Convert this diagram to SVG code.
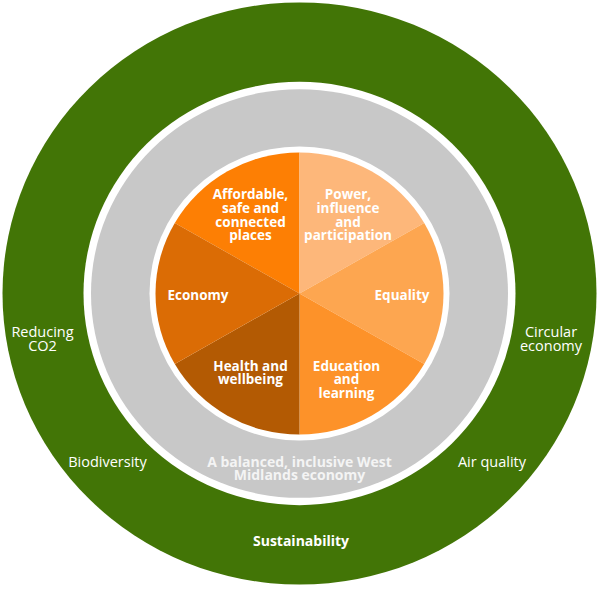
<svg xmlns="http://www.w3.org/2000/svg" width="600" height="589" viewBox="0 0 600 589">
<style>
.lbl{font-family:"Open Sans","Liberation Sans",sans-serif;fill:#ffffff;text-anchor:middle}
.b{font-weight:700;font-size:13.5px}
.r{font-weight:400;font-size:14.5px}
.bal{fill:#f4f4f4;font-size:14px}
</style>
<rect width="600" height="589" fill="#ffffff"/>
<g id="sustainability">
<g transform="translate(299.5,293.5) scale(1,0.98)">
<circle r="297" fill="#427506"/>
<circle r="216" fill="#ffffff"/>
</g>
<text class="lbl r" x="42.5" y="337">Reducing</text>
<text class="lbl r" x="42.5" y="351">CO2</text>
<text class="lbl r" x="107.5" y="467">Biodiversity</text>
<text class="lbl r" x="551" y="337">Circular</text>
<text class="lbl r" x="551" y="351">economy</text>
<text class="lbl r" x="492" y="467">Air quality</text>
<text class="lbl b" x="301" y="546" style="font-size:14px">Sustainability</text>
</g>
<g id="balanced-economy">
<g transform="translate(299.5,293.5) scale(1,0.98)">
<circle r="208.5" fill="#c8c8c8"/>
<circle r="150" fill="#ffffff"/>
</g>
<text class="lbl b bal" x="299.5" y="466.5">A balanced, inclusive West</text>
<text class="lbl b bal" x="299.5" y="480">Midlands economy</text>
</g>
<g id="sector-affordable">
<path transform="translate(299.5,293.5) scale(1,0.98)" d="M0,0 L0,-144 A144,144 0 0 0 -124.71,-72 Z" fill="#fd7f04"/>
<text class="lbl b" x="250.5" y="198.5">Affordable,</text>
<text class="lbl b" x="250.5" y="212.5">safe and</text>
<text class="lbl b" x="250.5" y="226.5">connected</text>
<text class="lbl b" x="250.5" y="240">places</text>
</g>
<g id="sector-power">
<path transform="translate(299.5,293.5) scale(1,0.98)" d="M0,0 L0,-144 A144,144 0 0 1 124.71,-72 Z" fill="#fdb77a"/>
<text class="lbl b" x="348" y="198.5">Power,</text>
<text class="lbl b" x="348" y="212.5">influence</text>
<text class="lbl b" x="348" y="226.5">and</text>
<text class="lbl b" x="348" y="240">participation</text>
</g>
<g id="sector-equality">
<path transform="translate(299.5,293.5) scale(1,0.98)" d="M0,0 L124.71,-72 A144,144 0 0 1 124.71,72 Z" fill="#fda650"/>
<text class="lbl b" x="402" y="299.5">Equality</text>
</g>
<g id="sector-education">
<path transform="translate(299.5,293.5) scale(1,0.98)" d="M0,0 L124.71,72 A144,144 0 0 1 0,144 Z" fill="#fd9229"/>
<text class="lbl b" x="346.5" y="370.5">Education</text>
<text class="lbl b" x="346.5" y="384">and</text>
<text class="lbl b" x="346.5" y="397.5">learning</text>
</g>
<g id="sector-health">
<path transform="translate(299.5,293.5) scale(1,0.98)" d="M0,0 L0,144 A144,144 0 0 1 -124.71,72 Z" fill="#b35a03"/>
<text class="lbl b" x="250.5" y="370.5">Health and</text>
<text class="lbl b" x="250.5" y="384">wellbeing</text>
</g>
<g id="sector-economy">
<path transform="translate(299.5,293.5) scale(1,0.98)" d="M0,0 L-124.71,72 A144,144 0 0 1 -124.71,-72 Z" fill="#db6c05"/>
<text class="lbl b" x="198" y="299.5">Economy</text>
</g>
<g id="connectors"/>
</svg>
